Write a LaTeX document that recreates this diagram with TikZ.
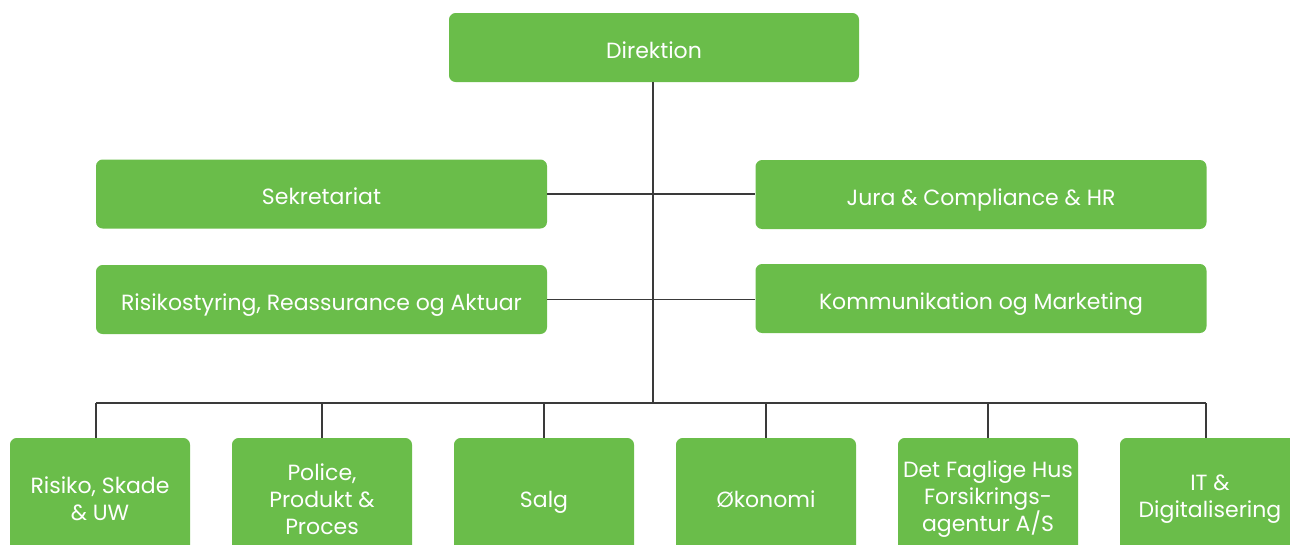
\documentclass[tikz,border=0pt]{standalone}
\usepackage{fontspec}
\setmainfont{Poppins}
\definecolor{boxgreen}{RGB}{106,189,74}
\definecolor{linegray}{RGB}{58,58,58}
\begin{document}
\begin{tikzpicture}[x=0.75pt,y=-0.75pt,
  box/.style={fill=boxgreen, rounded corners=5pt, text=white, align=center,
    inner sep=0pt, font=\fontsize{16.5}{20.25}\selectfont},
  onebox/.style={box, text height=16pt, text depth=0pt},
  topbox/.style={onebox, minimum width=307.5pt, minimum height=51.75pt},
  midbox/.style={onebox, minimum width=338.25pt, minimum height=51.75pt},
  lowbox/.style={box, minimum width=135pt, minimum height=91.5pt},
  lowone/.style={lowbox, text height=13pt, text depth=0pt},
  conn/.style={draw=linegray, line width=1.1pt}]
\useasboundingbox (0,0) rectangle (1290,544);
\clip (0,0) rectangle (1290,544);
\node[topbox] (dir) at (654,47.5) {Direktion};
\node[midbox] (sek) at (321.5,194) {Sekretariat};
\node[midbox] (jura) at (981,194.5) {Jura \& Compliance \& HR};
\node[midbox] (risk) at (321.5,299.5) {Risikostyring, Reassurance og Aktuar};
\node[midbox] (komm) at (981,298.5) {Kommunikation og Marketing};
\node[lowbox] (b1) at (100,499) {Risiko, Skade\\\& UW};
\node[lowbox] (b2) at (322,499) {Police,\\Produkt \&\\Proces};
\node[lowone] (b3) at (544,499) {Salg};
\node[lowone] (b4) at (766,499) {Økonomi};
\node[lowbox] (b5) at (988,499) {Det Faglige Hus\\Forsikrings-\\agentur A/S};
\node[lowbox] (b6) at (1210,499) {IT \&\\Digitalisering};
\coordinate (c1) at (96,403);
\coordinate (c2) at (322,403);
\coordinate (c3) at (544,403);
\coordinate (c4) at (766,403);
\coordinate (c5) at (988,403);
\coordinate (c6) at (1206,403);
\coordinate (hub) at (653,403);
\draw[conn] ([xshift=-0.75pt]dir.south) -- ([xshift=-0.75pt]dir.south |- hub);
\draw[conn] (sek.east) -- (sek.east -| jura.west);
\draw[conn] (risk.east) -- (risk.east -| komm.west);
\draw[conn] (c1) -- (c6);
\draw[conn] (c1) -- (c1 |- b1.north);
\draw[conn] (c2) -- (c2 |- b2.north);
\draw[conn] (c3) -- (c3 |- b3.north);
\draw[conn] (c4) -- (c4 |- b4.north);
\draw[conn] (c5) -- (c5 |- b5.north);
\draw[conn] (c6) -- (c6 |- b6.north);
\end{tikzpicture}
\end{document}
